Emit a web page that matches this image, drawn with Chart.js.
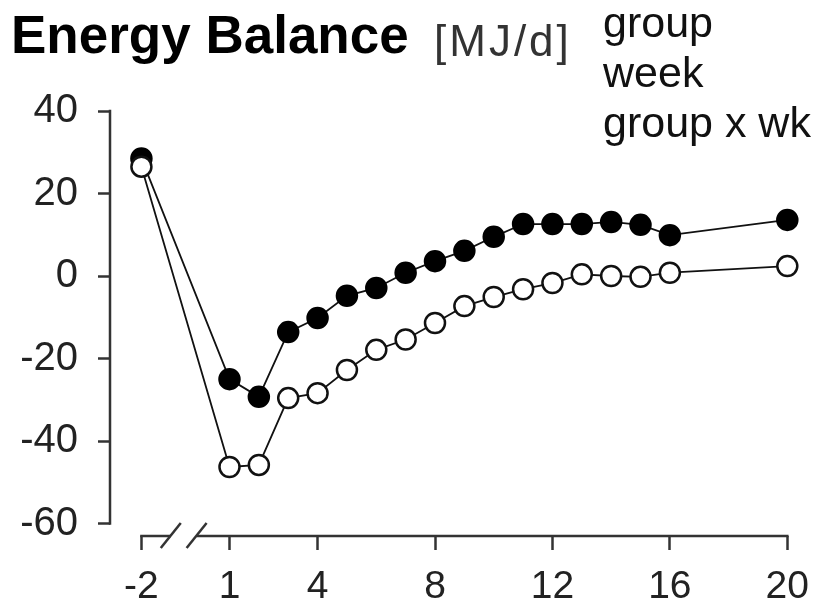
<!DOCTYPE html>
<html>
<head>
<meta charset="utf-8">
<script src="https://cdn.jsdelivr.net/npm/chart.js@4.4.0/dist/chart.umd.min.js"></script>
<style>
  html, body { margin: 0; padding: 0; background: #fff; }
  #wrap { width: 823px; height: 613px; position: relative; }
</style>
</head>
<body>
<div id="wrap"><canvas id="energyChart"></canvas></div>
<script>
// Semanas medidas (-2 = basal, separada por el corte del eje)
const weeks = [-2, 1, 2, 3, 4, 5, 6, 7, 8, 9, 10, 11, 12, 13, 14, 15, 16, 20];
// Balance energético [MJ/d] por grupo
const groupFilled = [28.5, -25, -29.3, -13.6, -10.2, -4.8, -2.9, 0.8, 3.6, 6.1, 9.5, 12.6, 12.6, 12.6, 13.1, 12.4, 9.9, 13.6];
const groupOpen = [26.5, -46.3, -45.8, -29.6, -28.4, -22.8, -17.9, -15.4, -11.4, -7.3, -5.1, -3.2, -1.7, 0.4, 0, -0.2, 0.8, 2.4];
const xTicks = [-2, 1, 4, 8, 12, 16, 20];
const yTicks = [-60, -40, -20, 0, 20, 40];
const titleText = 'Energy Balance';
const unitText = '[MJ/d]';
const effectLabels = ['group', 'week', 'group x wk'];

const FONT = '"Liberation Sans", Arial, sans-serif';
const AXIS_COLOR = '#333';

const toPoints = (values) => weeks.map((w, i) => ({ x: w, y: values[i] }));

// Ejes dibujados a mano: eje Y solo de -60 a 40 y eje X con corte
const brokenAxes = {
    id: 'brokenAxes',
    beforeDatasetsDraw(chart) {
        const { ctx, chartArea, scales: { x, y } } = chart;
        const axisY = chartArea.bottom;
        const axisX = chartArea.left;
        ctx.save();
        ctx.strokeStyle = AXIS_COLOR;
        ctx.lineWidth = 2.5;

        ctx.beginPath();
        ctx.moveTo(axisX, y.getPixelForValue(yTicks[0]) + 1.25);
        ctx.lineTo(axisX, y.getPixelForValue(yTicks[yTicks.length - 1]) - 1.25);
        ctx.stroke();

        const b1 = x.getPixelForValue(-1);
        const b2 = x.getPixelForValue(-0.12);
        ctx.beginPath();
        ctx.moveTo(x.getPixelForValue(xTicks[0]) - 1.25, axisY);
        ctx.lineTo(b1, axisY);
        ctx.moveTo(b2, axisY);
        ctx.lineTo(x.getPixelForValue(xTicks[xTicks.length - 1]) + 1.25, axisY);
        ctx.stroke();

        [b1, b2].forEach(bx => {
            ctx.beginPath();
            ctx.moveTo(bx - 10, axisY + 12);
            ctx.lineTo(bx + 10, axisY - 13);
            ctx.stroke();
        });
        ctx.restore();
    }
};

// Título, unidades y lista de efectos arriba a la derecha
const header = {
    id: 'header',
    afterDraw(chart) {
        const { ctx } = chart;
        ctx.save();
        ctx.textBaseline = 'alphabetic';
        ctx.textAlign = 'left';
        ctx.fillStyle = '#000';
        ctx.font = `bold 53px ${FONT}`;
        ctx.fillText(titleText, 11, 53);
        ctx.fillStyle = '#333';
        ctx.font = `44px ${FONT}`;
        ctx.letterSpacing = '3px';
        ctx.fillText(unitText, 434, 56);
        ctx.letterSpacing = '0px';
        ctx.fillStyle = '#111';
        ctx.font = `43px ${FONT}`;
        effectLabels.forEach((t, i) => ctx.fillText(t, 603, 37 + i * 50));
        ctx.restore();
    }
};

new Chart(document.getElementById('energyChart'), {
    type: 'line',
    data: {
        datasets: [
            {
                label: 'open',
                data: toPoints(groupOpen),
                borderColor: '#111',
                borderWidth: 1.8,
                pointRadius: 10,
                pointBorderWidth: 2.5,
                pointBackgroundColor: '#fff',
                pointBorderColor: '#111',
                tension: 0,
                clip: false
            },
            {
                label: 'filled',
                data: toPoints(groupFilled),
                borderColor: '#111',
                borderWidth: 1.8,
                pointRadius: 10,
                pointBorderWidth: 2.5,
                pointBackgroundColor: '#000',
                pointBorderColor: '#000',
                tension: 0,
                clip: false
            }
        ]
    },
    options: {
        responsive: true,
        maintainAspectRatio: false,
        animation: false,
        layout: { padding: { top: 111, right: 30, bottom: 0, left: 0 } },
        plugins: {
            legend: { display: false },
            tooltip: { enabled: false },
            title: { display: false }
        },
        scales: {
            x: {
                type: 'linear',
                min: -3.07,
                max: 20,
                afterBuildTicks: (scale) => { scale.ticks = xTicks.map(v => ({ value: v })); },
                afterFit: (scale) => { scale.height = 77; },
                border: { display: false },
                grid: { display: true, drawOnChartArea: false, drawTicks: true, tickLength: 14, tickColor: AXIS_COLOR, tickWidth: 2.5 },
                ticks: {
                    autoSkip: false,
                    maxRotation: 0,
                    padding: 14,
                    color: '#222',
                    font: { family: FONT, size: 39 },
                    callback: (v) => String(v)
                }
            },
            y: {
                min: -63.03,
                max: 40,
                afterBuildTicks: (scale) => { scale.ticks = yTicks.map(v => ({ value: v })); },
                afterFit: (scale) => { scale.width = 110; },
                border: { display: false },
                grid: { display: true, drawOnChartArea: false, drawTicks: true, tickLength: 12, tickColor: AXIS_COLOR, tickWidth: 2.5 },
                ticks: {
                    padding: 20,
                    color: '#222',
                    font: { family: FONT, size: 40 },
                    callback: (v) => String(v)
                }
            }
        }
    },
    plugins: [brokenAxes, header]
});
</script>
</body>
</html>
